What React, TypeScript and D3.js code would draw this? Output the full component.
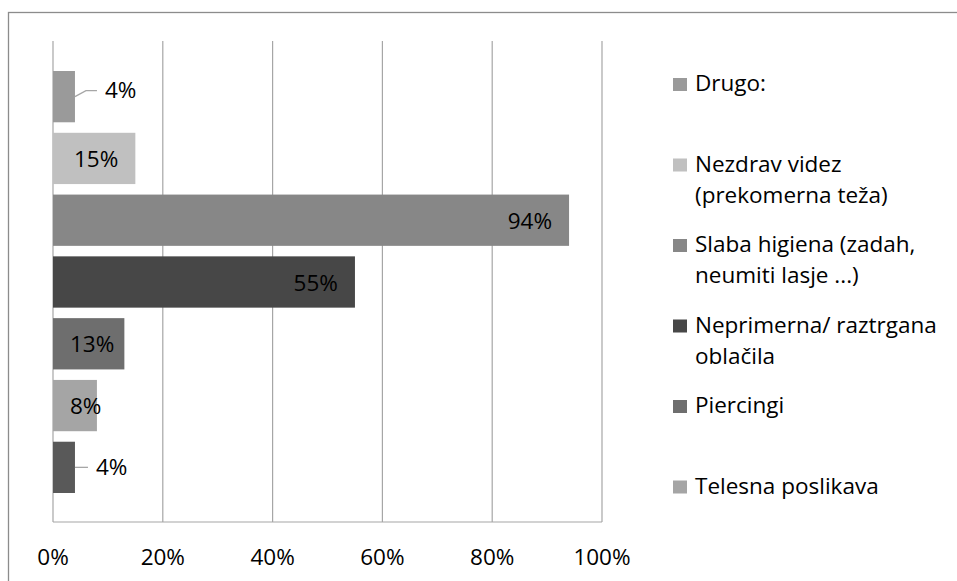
import React, { useEffect, useRef } from "react";
import * as d3 from "d3";

// Share of answers per reason, bars listed top to bottom
const values = [4, 15, 94, 55, 13, 8, 4];
const barColors = ["#9a9a9a", "#c0c0c0", "#878787", "#474747", "#6e6e6e", "#a5a5a5", "#595959"];

// Legend entries (each entry may wrap to two lines)
const legendLabels: string[][] = [
  ["Drugo:"],
  ["Nezdrav videz", "(prekomerna teža)"],
  ["Slaba higiena (zadah,", "neumiti lasje ...)"],
  ["Neprimerna/ raztrgana", "oblačila"],
  ["Piercingi"],
  ["Telesna poslikava"],
];
const legendColors = ["#9a9a9a", "#c0c0c0", "#878787", "#474747", "#6e6e6e", "#a5a5a5"];

const xTicks = [0, 20, 40, 60, 80, 100];

const W = 957;
const H = 581;
const FONT = "'Open Sans', 'Noto Sans', sans-serif";
const FS = 22.5;

const plot = { left: 53, right: 602, top: 41, bottom: 522 };

export default function App() {
  const ref = useRef<SVGSVGElement | null>(null);

  useEffect(() => {
    const svg = d3.select(ref.current);
    svg.selectAll("*").remove();

    const x = d3.scaleLinear().domain([0, 100]).range([plot.left, plot.right]);
    const y = d3
      .scaleBand<number>()
      .domain(values.map((_, i) => i))
      .range([71, 493])
      .paddingInner(0.17)
      .paddingOuter(0);

    // chart frame
    svg
      .append("rect")
      .attr("x", 8.5)
      .attr("y", 12.5)
      .attr("width", W)
      .attr("height", H)
      .attr("fill", "#fff")
      .attr("stroke", "#8c8c8c")
      .attr("stroke-width", 1.3);

    // vertical gridlines
    svg
      .append("g")
      .selectAll("line")
      .data(xTicks)
      .join("line")
      .attr("x1", (d) => x(d))
      .attr("x2", (d) => x(d))
      .attr("y1", plot.top)
      .attr("y2", plot.bottom)
      .attr("stroke", "#a6a6a6")
      .attr("stroke-width", 1.2);

    // category axis baseline
    svg
      .append("line")
      .attr("x1", plot.left)
      .attr("x2", plot.right)
      .attr("y1", plot.bottom)
      .attr("y2", plot.bottom)
      .attr("stroke", "#a6a6a6")
      .attr("stroke-width", 1.2);

    // tick labels
    svg
      .append("g")
      .selectAll("text")
      .data(xTicks)
      .join("text")
      .attr("x", (d) => x(d))
      .attr("y", 565)
      .attr("text-anchor", "middle")
      .attr("font-family", FONT)
      .attr("font-size", FS)
      .attr("fill", "#000")
      .text((d) => `${d}%`);

    // bars
    svg
      .append("g")
      .selectAll("rect")
      .data(values)
      .join("rect")
      .attr("x", x(0))
      .attr("y", (_, i) => y(i)!)
      .attr("width", (d) => x(d) - x(0))
      .attr("height", y.bandwidth())
      .attr("fill", (_, i) => barColors[i]);

    // value labels
    const pad = 17;
    const labels = svg.append("g");
    values.forEach((v, i) => {
      const cy = y(i)! + y.bandwidth() / 2;
      const end = x(v);
      const t = labels
        .append("text")
        .attr("font-family", FONT)
        .attr("font-size", FS)
        .attr("fill", "#000")
        .attr("dominant-baseline", "central")
        .text(`${v}%`);
      const w = (t.node() as SVGTextElement).getComputedTextLength();
      if (end - x(0) < 30) {
        // short bar: label outside with a leader line
        const raised = i === 0 ? -6 : 0;
        const tx = i === 0 ? end + 30 : end + 21;
        t.attr("x", tx).attr("y", cy + raised - 1);
        const path = d3.path();
        path.moveTo(end, cy);
        if (raised) {
          path.lineTo(end + 11, cy + raised);
          path.lineTo(tx - 8, cy + raised);
        } else {
          path.lineTo(tx - 8, cy);
        }
        labels
          .append("path")
          .attr("d", path.toString())
          .attr("fill", "none")
          .attr("stroke", "#a6a6a6")
          .attr("stroke-width", 1.3);
      } else {
        const right = Math.max(end - pad, x(0) + pad + w);
        t.attr("x", right - w).attr("y", cy);
      }
    });

    // legend
    const lg = svg.append("g");
    const lineH = 31;
    legendLabels.forEach((lines, i) => {
      const base = 91 + 80.5 * i;
      lg.append("rect")
        .attr("x", 673)
        .attr("y", base - 13)
        .attr("width", 14)
        .attr("height", 13)
        .attr("fill", legendColors[i]);
      lines.forEach((ln, j) => {
        lg.append("text")
          .attr("x", 695)
          .attr("y", base + j * lineH)
          .attr("font-family", FONT)
          .attr("font-size", FS)
          .attr("fill", "#000")
          .text(ln);
      });
    });
  }, []);

  return (
    <svg
      ref={ref}
      width={W}
      height={H}
      style={{ position: "absolute", left: 0, top: 0, background: "#fff" }}
    />
  );
}
